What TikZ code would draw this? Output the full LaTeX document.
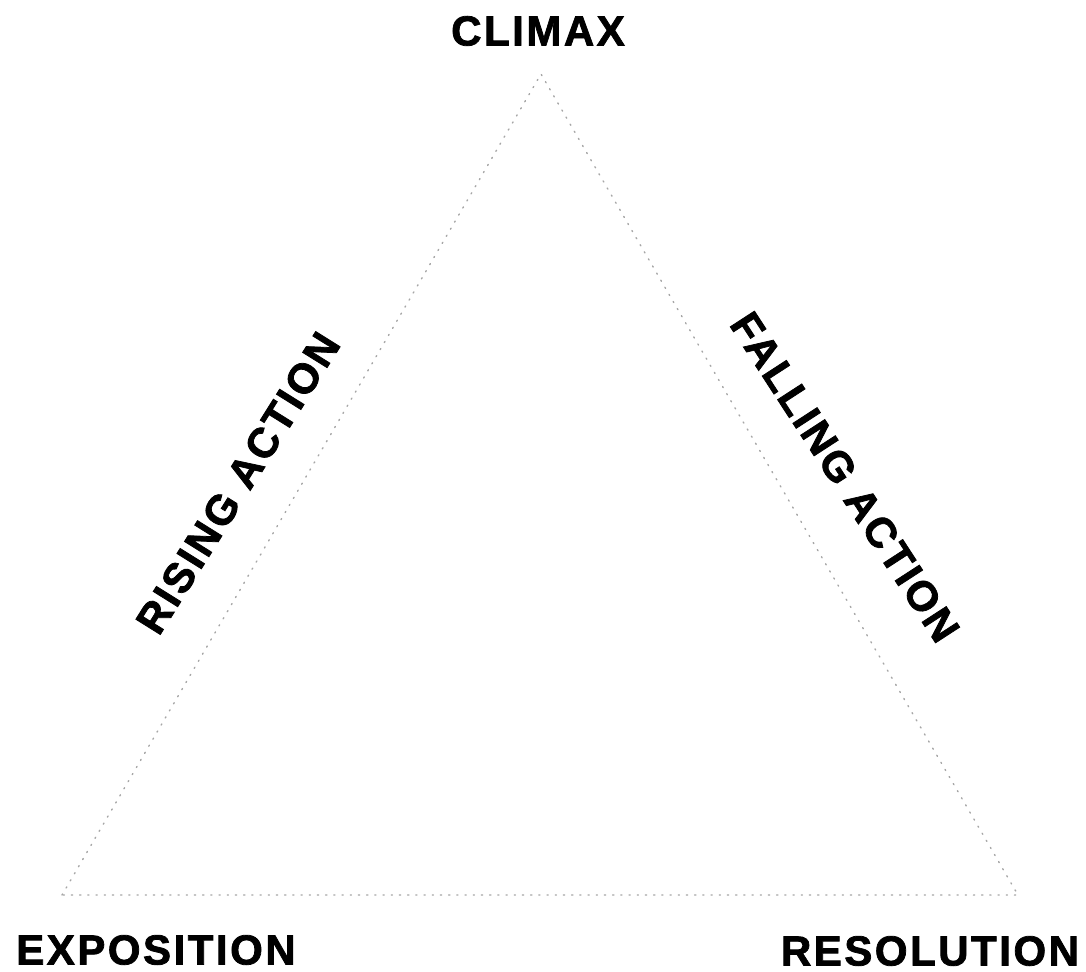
\documentclass[tikz,border=0pt]{standalone}
\usepackage{fontspec}
\setmainfont{Liberation Sans}
\newfontfamily\titolofont{Liberation Sans}[LetterSpace=6, FakeBold=1.8]
\usetikzlibrary{positioning}

\begin{document}
\begin{tikzpicture}[
  x=0.5pt, y=-0.5pt,
  etichetta/.style={font=\titolofont\bfseries\fontsize{21}{21}\selectfont, inner sep=0pt},
  tratto/.style={draw=black!35, line width=0.7pt, dash pattern=on 0.6pt off 3.5pt, line cap=round}
]
\useasboundingbox (0,0) rectangle (1086,972);

% vertici del triangolo
\coordinate (picco) at (541,74);
\coordinate (inizio) at (62,895);
\coordinate (fine) at (1018,895);

\draw[tratto] (inizio) -- (picco) -- (fine) -- cycle;

% etichette
\node[etichetta] (climax) at (538,31) {CLIMAX};
\node[etichetta] (esordio) at (156,950) {EXPOSITION};
\node[etichetta] (scioglimento) at (930,951) {RESOLUTION};
\node[etichetta, rotate=58] (ascesa) at (238,483) {RISING ACTION};
\node[etichetta, rotate=-57] (discesa) at (845,477) {FALLING ACTION};

\end{tikzpicture}
\end{document}
